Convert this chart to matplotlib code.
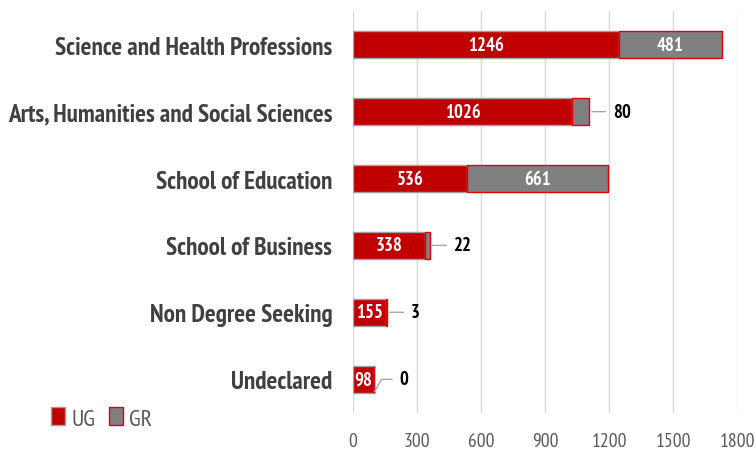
import numpy as np
import matplotlib.pyplot as plt

# enrollment by school
schools = ["Science and Health Professions", "Arts, Humanities and Social Sciences",
           "School of Education", "School of Business", "Non Degree Seeking", "Undeclared"]
ug = np.array([1246, 1026, 536, 338, 155, 98])
gr = np.array([481, 80, 661, 22, 3, 0])
xticks = [0, 300, 600, 900, 1200, 1500, 1800]

red = "#C00000"
grey = "#808080"
plt.rcParams['font.family'] = ["PT Sans Narrow", "DejaVu Sans"]

fig = plt.figure(figsize=(7.56, 4.56), dpi=100)
ax = fig.add_axes([0.467, 0.093, 0.508, 0.880])

y = np.arange(len(schools))
b1 = ax.barh(y, ug, height=0.4, color=red, edgecolor="#a0a0a0", linewidth=1, label="UG", zorder=3)
b2 = ax.barh(y, gr, left=ug, height=0.4, color=grey, edgecolor="#e00000", linewidth=1, label="GR", zorder=3)

ax.set_xlim(0, 1800)
ax.set_ylim(len(schools) - 0.5, -0.5)
ax.set_xticks(xticks)
ax.set_yticks(y)
ax.set_yticklabels(schools, fontsize=18.2, fontweight="bold", color="#404040")
ax.tick_params(axis="x", length=0, pad=14, labelsize=14, labelcolor="#595959")
ax.tick_params(axis="y", length=0, pad=15)
ax.grid(axis="x", color="#d9d9d9", linewidth=1, zorder=0)
for s in ax.spines.values():
    s.set_visible(False)

# labels inside / outside
for i in range(len(schools)):
    ax.text(ug[i] / 2, i, str(ug[i]), ha="center", va="center", color="white",
            fontsize=13.5, fontweight="bold", zorder=4)
    if gr[i] > 200:
        ax.text(ug[i] + gr[i] / 2, i, str(gr[i]), ha="center", va="center", color="white",
                fontsize=13.5, fontweight="bold", zorder=4)
    elif gr[i] > 0:
        ax.annotate(str(gr[i]), xy=(ug[i] + gr[i], i), xytext=(17, 0), textcoords="offset points",
                    ha="left", va="center", fontsize=13.5, fontweight="bold", color="black",
                    arrowprops=dict(arrowstyle="-", color="#a6a6a6", lw=1, shrinkA=3, shrinkB=2))
    else:
        ax.annotate(str(gr[i]), xy=(ug[i] + gr[i], i + 0.2), xytext=(18, 9.5), textcoords="offset points",
                    ha="left", va="center", fontsize=13.5, fontweight="bold", color="black",
                    arrowprops=dict(arrowstyle="-", color="#a6a6a6", lw=1, shrinkA=3, shrinkB=1,
                                    connectionstyle="angle,angleA=0,angleB=60"))

leg = fig.legend(handles=[b1, b2], labels=["UG", "GR"], loc="lower left",
                 bbox_to_anchor=(0.052, 0.03), frameon=False, ncol=2, borderpad=0,
                 fontsize=17, handlelength=0.6, handleheight=0.8, handletextpad=0.25,
                 columnspacing=0.6)
for t in leg.get_texts():
    t.set_color("#595959")

fig.savefig("out.png", dpi=100)
